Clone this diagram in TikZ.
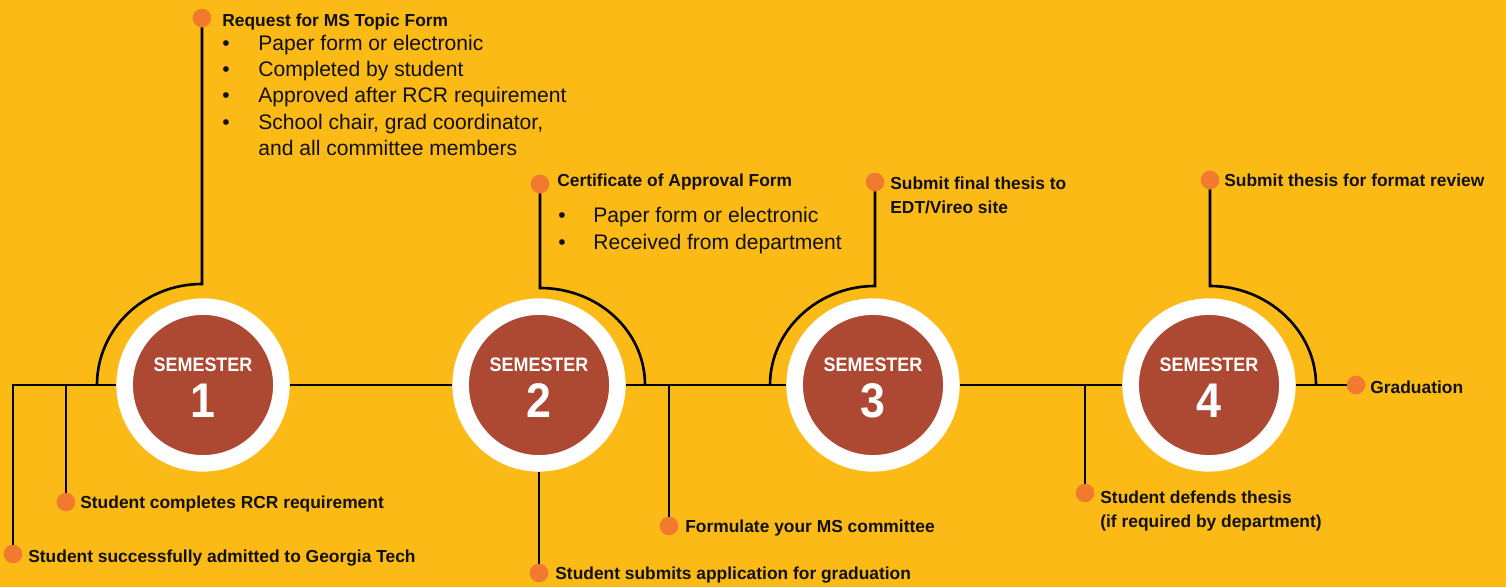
\documentclass[tikz,border=0pt]{standalone}
\usepackage{fontspec}
\setmainfont{Liberation Sans}
\newfontfamily\condfont[FakeStretch=0.92]{Liberation Sans}
\definecolor{bg}{HTML}{FBBA16}
\definecolor{semred}{HTML}{AD4833}
\definecolor{dotor}{HTML}{F27A2E}
\definecolor{ink}{HTML}{111111}
\begin{document}
\begin{tikzpicture}[x=0.02cm,y=-0.02cm,
 line/.style={line width=1.5pt, draw=black},
 sem/.style={circle, fill=semred, draw=white, line width=9.4pt, minimum size=89.2pt, inner sep=0pt, outer sep=4.7pt},
 dot/.style={circle, fill=dotor, minimum size=10.6pt, inner sep=0pt, outer sep=0pt},
 lbl/.style={anchor=base west, inner sep=0pt, font=\fontsize{9.9}{12}\selectfont\bfseries, text=ink},
 item/.style={anchor=base west, inner sep=0pt, font=\fontsize{12}{14}\selectfont, text=ink},
 semw/.style={anchor=base, inner sep=0pt, text=white, font=\condfont\bfseries\fontsize{11.1}{12}\selectfont},
 semn/.style={anchor=base, inner sep=0pt, text=white, font=\condfont\bfseries\fontsize{27.7}{30}\selectfont}]
\fill[bg, use as bounding box] (0,0) rectangle (1506,587);

% semester circles
\node[sem] (s1) at (203,385) {};
\node[sem] (s2) at (539,385) {};
\node[sem] (s3) at (873,385) {};
\node[sem] (s4) at (1209,385) {};
\foreach \n/\x in {1/203,2/539,3/873,4/1209}{
  \node[semw] at (\x,371) {SEMESTER};
  \node[semn] at (\x,417) {\n};
}

% dots
\node[dot] (d1) at (202,18) {};
\node[dot] (d2) at (540,184) {};
\node[dot] (d3) at (875,182) {};
\node[dot] (d4) at (1210,180) {};
\node[dot] (d5) at (1356,385) {};
\node[dot] (d6) at (1085,493) {};
\node[dot] (d7) at (669,526) {};
\node[dot] (d8) at (539,573) {};
\node[dot] (d9) at (66,502) {};
\node[dot] (d10) at (13,554) {};

% coordinates
\coordinate (a0) at (13,385);
\coordinate (a9) at (66,385);
\coordinate (a7) at (669,385);
\coordinate (a6) at (1085,385);
\coordinate (L1) at (97,385);  \coordinate (T1) at (202,284);
\coordinate (T2) at (540,288); \coordinate (R2) at (645,385);
\coordinate (L3) at (770,385); \coordinate (T3) at (875,286);
\coordinate (T4) at (1210,286); \coordinate (R4) at (1316,385);

% connectors
\draw[line] (d10) -- (a0) -- (s1) -- (s2) -- (s3) -- (s4) -- (d5);
\draw[line] (a9) -- (d9);
\draw[line] (s2) -- (d8);
\draw[line] (a7) -- (d7);
\draw[line] (a6) -- (d6);
\draw[line] (L1) .. controls (97,329) and (144,284) .. (T1) -- (d1);
\draw[line] (d2) -- (T2) .. controls (598,288) and (645,331) .. (R2);
\draw[line] (L3) .. controls (770,331) and (817,286) .. (T3) -- (d3);
\draw[line] (d4) -- (T4) .. controls (1268,286) and (1316,331) .. (R4);

% labels
\node[lbl] at (222,27) {Request for MS Topic Form};
\foreach \y/\t in {51/Paper form or electronic,77/Completed by student,103/Approved after RCR requirement,129.5/{School chair, grad coordinator,}}{
  \node[item] at (222,\y) {•};
  \node[item] at (258,\y) {\t};
}
\node[item] at (258,156) {and all committee members};

\node[lbl] at (557,187) {Certificate of Approval Form};
\node[item] at (558,223) {•};
\node[item] at (593,223) {Paper form or electronic};
\node[item] at (558,250) {•};
\node[item] at (593,250) {Received from department};

\node[lbl] at (890,190) {Submit final thesis to};
\node[lbl] at (890,214) {EDT/Vireo site};
\node[lbl] at (1224,187) {Submit thesis for format review};
\node[lbl] at (1370,393) {Graduation};
\node[lbl] at (1100,503) {Student defends thesis};
\node[lbl] at (1100,527) {(if required by department)};
\node[lbl] at (685,532) {Formulate your MS committee};
\node[lbl] at (555,579) {Student submits application for graduation};
\node[lbl] at (80,508) {Student completes RCR requirement};
\node[lbl] at (28,562) {Student successfully admitted to Georgia Tech};
\end{tikzpicture}
\end{document}
